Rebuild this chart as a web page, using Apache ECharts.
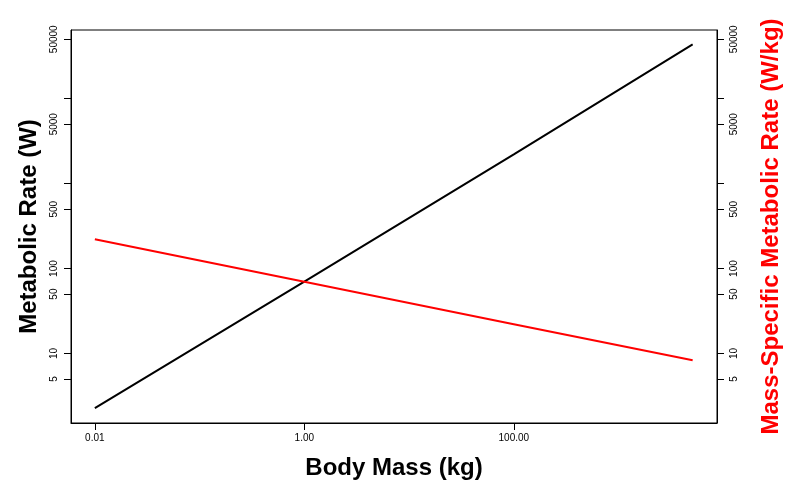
<!DOCTYPE html>
<html>
<head>
<meta charset="utf-8">
<script src="https://cdn.jsdelivr.net/npm/echarts@6/dist/echarts.min.js"></script>
<style>html,body{margin:0;padding:0;background:#fff;}#c{width:786px;height:481px;}</style>
</head>
<body>
<div id="c"></div>
<script>
// Data
var bodyMass = [0.01, 1, 100, 5100];
var metabolicRate = [2.28, 70, 2210, 43650];
var massSpecificRate = [221, 70, 22.1, 8.34];
var xTicks = [0.01, 1, 100];
var xTickLabels = ['0.01', '1.00', '100.00'];
var yTicks = [5, 10, 50, 100, 500, 1000, 5000, 10000, 50000];
var yLabelValues = [5, 10, 50, 100, 500, 5000, 50000];

var chart = echarts.init(document.getElementById('c'), null, {renderer: 'canvas'});
var font = '"Liberation Sans", Arial, Helvetica, sans-serif';
function pairs(xs, ys) { return xs.map(function (x, i) { return [x, ys[i]]; }); }

var yCommon = function (pos, nameColor, name, gap) {
  return {
    type: 'log', logBase: 10, position: pos,
    min: 1.52, max: 64300,
    name: name, nameLocation: 'middle', nameGap: gap, nameRotate: 90,
    nameTextStyle: {fontFamily: font, fontSize: 24, fontWeight: 'bold', color: nameColor},
    axisLine: {show: true, lineStyle: {color: '#000', width: 1}},
    axisTick: {show: true, length: 7, lineStyle: {color: '#000'}, customValues: yTicks},
    axisLabel: {show: true, rotate: 90, margin: 12, fontFamily: font, fontSize: 10, color: '#000',
      customValues: yLabelValues, formatter: function (v) { return String(Math.round(v)); }},
    splitLine: {show: false}, minorTick: {show: false}
  };
};

chart.setOption({
  animation: false,
  backgroundColor: '#fff',
  grid: {left: 71, right: 69, top: 30, bottom: 58, show: true, borderColor: '#000', borderWidth: 1,
    containLabel: false, outerBoundsMode: 'none'},
  xAxis: {
    type: 'log', logBase: 10, min: 0.00592, max: 8710,
    name: 'Body Mass (kg)', nameLocation: 'middle', nameGap: 33,
    nameTextStyle: {fontFamily: font, fontSize: 24, fontWeight: 'bold', color: '#000'},
    axisLine: {show: true, lineStyle: {color: '#000', width: 1}},
    axisTick: {show: true, length: 7, lineStyle: {color: '#000'}, customValues: xTicks},
    axisLabel: {show: true, margin: 10, fontFamily: font, fontSize: 10, color: '#000',
      customValues: xTicks, formatter: function (v) {
        var i = xTicks.findIndex(function (t) { return Math.abs(Math.log10(t) - Math.log10(v)) < 1e-6; });
        return i >= 0 ? xTickLabels[i] : '';
      }},
    splitLine: {show: false}
  },
  yAxis: [
    yCommon('left', '#000', 'Metabolic Rate (W)', 27),
    yCommon('right', '#ff0000', 'Mass-Specific Metabolic Rate (W/kg)', 42)
  ],
  series: [
    {type: 'line', xAxisIndex: 0, yAxisIndex: 0, data: pairs(bodyMass, metabolicRate),
      showSymbol: false, lineStyle: {color: '#000', width: 2}, itemStyle: {color: '#000'}},
    {type: 'line', xAxisIndex: 0, yAxisIndex: 1, data: pairs(bodyMass, massSpecificRate),
      showSymbol: false, lineStyle: {color: '#ff0000', width: 2}, itemStyle: {color: '#ff0000'}}
  ]
});
</script>
</body>
</html>
